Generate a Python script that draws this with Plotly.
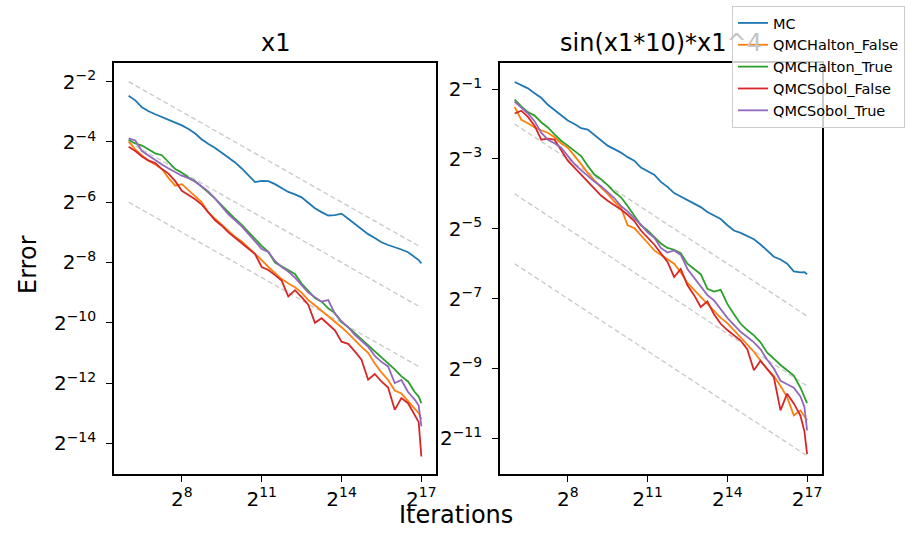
import numpy as np
import plotly.graph_objects as go

# iterations (log2 of the sample count)
iter_log2 = [6.0, 6.25, 6.5, 6.75, 7.0, 7.25, 7.5, 7.75, 8.0, 8.25, 8.5, 8.75,
             9.0, 9.25, 9.5, 9.75, 10.0, 10.25, 10.5, 10.75, 11.0, 11.25, 11.5, 11.75,
             12.0, 12.25, 12.5, 12.75, 13.0, 13.25, 13.5, 13.75, 14.0, 14.25, 14.5, 14.75,
             15.0, 15.25, 15.5, 15.75, 16.0, 16.25, 16.5, 16.75, 16.9, 17.0]

# log2(error) for f = x1
x1_mc = [-2.47, -2.62, -2.85, -2.98, -3.08, -3.18, -3.26, -3.36, -3.45, -3.57, -3.72, -3.92,
         -4.07, -4.20, -4.36, -4.52, -4.68, -4.88, -5.12, -5.33, -5.29, -5.30, -5.40, -5.52,
         -5.66, -5.74, -5.84, -6.02, -6.20, -6.33, -6.44, -6.43, -6.38, -6.55, -6.72, -6.91,
         -7.06, -7.19, -7.33, -7.42, -7.49, -7.57, -7.66, -7.81, -7.92, -8.03]
x1_halton_false = [-3.99, -4.25, -4.45, -4.62, -4.75, -4.90, -5.20, -5.45, -5.40, -5.60, -5.80, -6.00,
                   -6.35, -6.55, -6.72, -6.95, -7.15, -7.30, -7.50, -7.70, -7.92, -8.15, -8.36, -8.55,
                   -8.70, -8.82, -9.00, -9.25, -9.42, -9.60, -9.80, -9.95, -10.15, -10.35, -10.58, -10.80,
                   -11.00, -11.35, -11.65, -11.90, -12.25, -12.35, -12.60, -12.85, -13.00, -13.20]
x1_halton_true = [-3.93, -4.05, -4.12, -4.25, -4.38, -4.44, -4.68, -4.90, -5.02, -5.18, -5.30, -5.48,
                  -5.68, -5.88, -6.10, -6.35, -6.55, -6.75, -7.00, -7.22, -7.45, -7.65, -8.00, -8.12,
                  -8.25, -8.38, -8.70, -8.95, -9.18, -9.30, -9.52, -9.68, -9.98, -10.15, -10.35, -10.55,
                  -10.72, -10.95, -11.15, -11.35, -11.55, -11.78, -11.95, -12.30, -12.45, -12.67]
x1_sobol_false = [-4.16, -4.30, -4.48, -4.62, -4.70, -4.90, -5.05, -5.30, -5.62, -5.75, -5.90, -6.08,
                  -6.35, -6.60, -6.78, -7.00, -7.18, -7.35, -7.55, -7.72, -8.15, -8.25, -8.42, -8.60,
                  -9.13, -8.92, -9.15, -9.40, -10.00, -9.85, -10.05, -10.25, -10.63, -10.70, -10.95, -11.23,
                  -11.89, -11.70, -11.95, -12.15, -12.89, -12.50, -12.67, -13.05, -13.30, -14.44]
x1_sobol_true = [-3.88, -3.95, -4.30, -4.45, -4.62, -4.75, -4.88, -5.00, -5.12, -5.20, -5.32, -5.48,
                 -5.65, -5.88, -6.15, -6.40, -6.60, -6.80, -7.05, -7.30, -7.55, -7.65, -7.95, -8.15,
                 -8.30, -8.50, -8.75, -9.00, -9.15, -9.30, -9.25, -9.70, -9.95, -10.15, -10.40, -10.60,
                 -10.80, -11.10, -11.30, -11.45, -12.00, -11.90, -12.30, -12.55, -12.75, -13.44]

# log2(error) for f = sin(x1*10)*x1^4
sin_mc = [-0.80, -0.88, -0.98, -1.12, -1.25, -1.45, -1.60, -1.74, -1.90, -2.00, -2.12, -2.16,
          -2.32, -2.48, -2.62, -2.72, -2.82, -2.95, -3.05, -3.25, -3.35, -3.45, -3.66, -3.80,
          -3.98, -4.08, -4.20, -4.28, -4.38, -4.52, -4.62, -4.72, -4.90, -5.05, -5.12, -5.22,
          -5.30, -5.45, -5.62, -5.80, -5.88, -6.00, -6.22, -6.25, -6.24, -6.30]
sin_halton_false = [-1.51, -1.88, -1.98, -2.10, -2.18, -2.25, -2.38, -2.55, -2.68, -2.90, -3.15, -3.40,
                    -3.62, -3.82, -4.00, -4.22, -4.40, -4.90, -4.98, -5.18, -5.40, -5.62, -5.75, -5.88,
                    -6.00, -6.25, -6.55, -6.75, -6.95, -7.15, -7.35, -7.55, -7.70, -7.90, -8.12, -8.30,
                    -8.52, -8.78, -9.02, -9.22, -9.50, -9.82, -10.34, -10.20, -10.35, -10.48]
sin_halton_true = [-1.30, -1.50, -1.66, -1.76, -1.95, -2.10, -2.30, -2.48, -2.62, -2.78, -2.92, -3.20,
                   -3.45, -3.58, -3.75, -3.95, -4.10, -4.35, -4.62, -4.90, -5.05, -5.25, -5.42, -5.55,
                   -5.60, -5.70, -6.00, -6.15, -6.30, -6.72, -6.80, -6.75, -7.15, -7.45, -7.72, -7.90,
                   -8.05, -8.25, -8.55, -8.72, -8.90, -9.05, -9.20, -9.55, -9.80, -9.99]
sin_sobol_false = [-1.70, -1.62, -1.80, -2.05, -2.45, -2.42, -2.45, -2.75, -3.05, -3.25, -3.45, -3.65,
                   -3.88, -4.05, -4.20, -4.32, -4.45, -4.60, -4.78, -5.05, -5.25, -5.45, -5.70, -5.95,
                   -6.38, -6.15, -6.62, -6.90, -7.24, -7.08, -7.45, -7.72, -7.90, -8.05, -8.20, -8.45,
                   -9.05, -8.78, -9.00, -9.25, -10.20, -9.72, -10.00, -10.35, -10.80, -11.45]
sin_sobol_true = [-1.36, -1.52, -1.70, -1.92, -2.25, -2.45, -2.55, -2.68, -2.90, -3.15, -3.32, -3.48,
                  -3.65, -3.78, -3.95, -4.12, -4.35, -4.50, -4.70, -4.88, -5.10, -5.25, -5.55, -5.68,
                  -5.62, -5.75, -6.15, -6.40, -6.65, -6.90, -7.05, -7.30, -7.55, -7.75, -7.95, -8.10,
                  -8.25, -8.45, -8.75, -9.00, -9.35, -9.45, -9.55, -9.80, -10.10, -10.77]

# grey dashed reference lines (log2 endpoints)
ref_x_log2 = [6, 17]
ref_start_log2 = [-2, -4, -6]
ref_end_log2 = [-7.5, -9.5, -11.5]

series_names = ["MC", "QMCHalton_False", "QMCHalton_True", "QMCSobol_False", "QMCSobol_True"]
series_colors = ["#1f77b4", "#ff7f0e", "#2ca02c", "#d62728", "#9467bd"]
panels = [
    ("x1", [x1_mc, x1_halton_false, x1_halton_true, x1_sobol_false, x1_sobol_true]),
    # the "^4" sits under the semi-transparent legend in the original
    ("sin(x1*10)*x1<span style='color:#c4c4c4'>^4</span>",
     [sin_mc, sin_halton_false, sin_halton_true, sin_sobol_false, sin_sobol_true]),
]

x_tick_log2 = [8, 11, 14, 17]
y_tick_log2_left = [-14, -12, -10, -8, -6, -4, -2]
y_tick_log2_right = [-11, -9, -7, -5, -3, -1]

W, H = 913, 533
L2 = np.log10(2)
FONT = "DejaVu Sans, Arial, sans-serif"


def _pow2(vals):
    return [2.0 ** v for v in vals]


def _label(n):
    s = str(n).replace("-", "\u2212")
    return f"2<sup>{s}</sup>"


fig = go.Figure()

for p, (title, series) in enumerate(panels):
    xa = "x" if p == 0 else "x2"
    ya = "y" if p == 0 else "y2"
    # reference lines
    for a, b in zip(ref_start_log2, ref_end_log2):
        fig.add_trace(go.Scatter(
            x=_pow2(ref_x_log2), y=_pow2([a, b]), mode="lines",
            line=dict(color="#c8c8c8", width=1.3, dash="5px,3px"),
            showlegend=False, hoverinfo="skip", xaxis=xa, yaxis=ya,
        ))
    for i, vals in enumerate(series):
        fig.add_trace(go.Scatter(
            x=_pow2(iter_log2), y=_pow2(vals), mode="lines", name=series_names[i],
            line=dict(color=series_colors[i], width=1.8),
            showlegend=(p == 0), xaxis=xa, yaxis=ya,
        ))

axis_common = dict(
    type="log", showgrid=False, zeroline=False,
    showline=True, linecolor="black", linewidth=1.6, mirror=True,
    ticks="outside", ticklen=6, tickwidth=1.4, tickcolor="black",
    tickfont=dict(family=FONT, size=20, color="black"),
)
x_range = [5.45 * L2, 17.55 * L2]
y_dom = [1 - 474 / H, 1 - 63 / H]

fig.update_layout(
    width=W, height=H,
    margin=dict(l=0, r=0, t=0, b=0),
    paper_bgcolor="white", plot_bgcolor="white",
    font=dict(family=FONT, color="black"),
    xaxis=dict(axis_common, domain=[114 / W, 436 / W], range=x_range, anchor="y",
               tickvals=_pow2(x_tick_log2), ticktext=[_label(n) for n in x_tick_log2]),
    yaxis=dict(axis_common, domain=y_dom, range=[-15.02 * L2, -1.38 * L2], anchor="x",
               ticklabelstandoff=6,
               tickvals=_pow2(y_tick_log2_left), ticktext=[_label(n) for n in y_tick_log2_left]),
    xaxis2=dict(axis_common, domain=[500 / W, 821.7 / W], range=x_range, anchor="y2",
                tickvals=_pow2(x_tick_log2), ticktext=[_label(n) for n in x_tick_log2]),
    yaxis2=dict(axis_common, domain=y_dom, range=[-12.02 * L2, -0.255 * L2], anchor="x2",
                ticklabelstandoff=6,
                tickvals=_pow2(y_tick_log2_right), ticktext=[_label(n) for n in y_tick_log2_right]),
    legend=dict(
        x=905 / W, xanchor="right", y=1 - 6 / H, yanchor="top",
        bgcolor="rgba(255,255,255,0.8)", bordercolor="#cccccc", borderwidth=1,
        font=dict(family=FONT, size=14.5, color="black"),
    ),
    showlegend=True,
)

annotations = [
    dict(text=panels[0][0], x=(114 + 436) / 2 / W, y=1 - 43 / H),
    dict(text=panels[1][0], x=(500 + 821.7) / 2 / W, y=1 - 43 / H),
    dict(text="Error", x=28 / W, y=1 - 265 / H, textangle=-90),
    dict(text="Iterations", x=456 / W, y=1 - 515 / H),
]
for a in annotations:
    fig.add_annotation(xref="paper", yref="paper", showarrow=False,
                       xanchor="center", yanchor="middle",
                       font=dict(family=FONT, size=24, color="black"), **a)

fig.write_html("out.html", config={"displayModeBar": False},
               post_script="document.body.style.margin='0';")
